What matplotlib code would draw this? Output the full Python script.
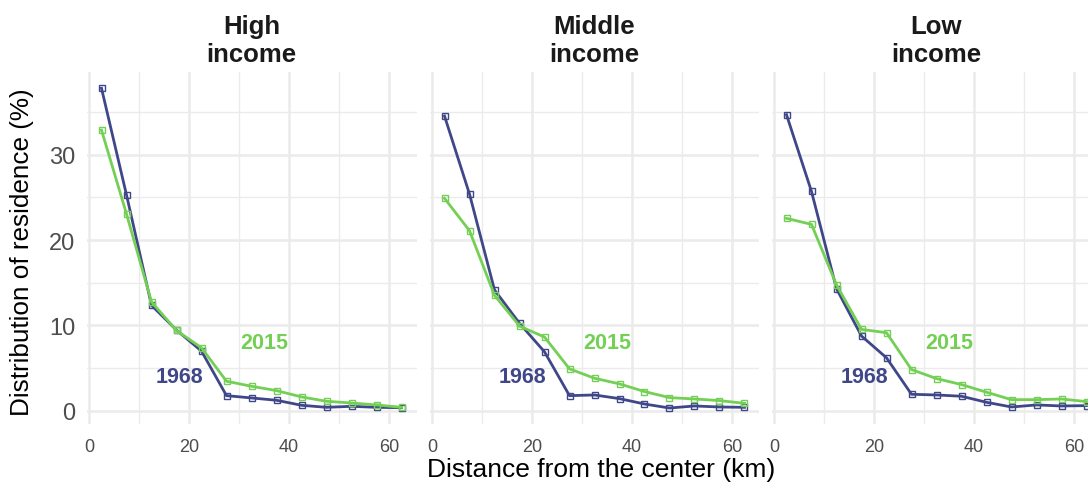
import matplotlib
matplotlib.use("Agg")
import matplotlib.pyplot as plt
from matplotlib.ticker import MultipleLocator

plt.rcParams["font.family"] = ["Liberation Sans", "DejaVu Sans"]

# distance bins (km), midpoints
distance = [2.5, 7.5, 12.5, 17.5, 22.5, 27.5, 32.5, 37.5, 42.5, 47.5, 52.5, 57.5, 62.5]

panels = ["High\nincome", "Middle\nincome", "Low\nincome"]

high_1968 = [37.8, 25.3, 12.35, 9.45, 6.98, 1.76, 1.49, 1.22, 0.63, 0.39, 0.51, 0.39, 0.35]
high_2015 = [32.9, 23.06, 12.75, 9.4, 7.37, 3.45, 2.86, 2.35, 1.61, 1.10, 0.90, 0.67, 0.39]

middle_1968 = [34.55, 25.4, 14.16, 10.24, 6.9, 1.76, 1.84, 1.41, 0.78, 0.31, 0.55, 0.43, 0.39]
middle_2015 = [24.9, 21.1, 13.53, 9.92, 8.63, 4.9, 3.8, 3.14, 2.24, 1.53, 1.37, 1.18, 0.86]

low_1968 = [34.7, 25.7, 14.3, 8.75, 6.2, 1.92, 1.84, 1.69, 0.98, 0.43, 0.67, 0.55, 0.59]
low_2015 = [22.55, 21.84, 14.75, 9.53, 9.14, 4.82, 3.76, 3.06, 2.16, 1.29, 1.29, 1.37, 1.06]

series_1968 = [high_1968, middle_1968, low_1968]
series_2015 = [high_2015, middle_2015, low_2015]

col_1968 = "#404788"
col_2015 = "#73D055"

W, H = 1088, 485
fig = plt.figure(figsize=(W / 100, H / 100), dpi=100)

panel_left = [86.5, 429.5, 771.5]
panel_w = 330
top_px, bottom_px = 73.3, 425.0
panel_h = bottom_px - top_px

ymax = max(max(s) for s in series_1968 + series_2015)
ymin = min(min(s) for s in series_1968 + series_2015)
ypad = (ymax - ymin) * 0.05

for i, name in enumerate(panels):
    ax = fig.add_axes([panel_left[i] / W, 1 - bottom_px / H,
                       panel_w / W, panel_h / H])
    ax.set_facecolor("white")
    for sp in ax.spines.values():
        sp.set_visible(False)

    ax.xaxis.set_major_locator(MultipleLocator(20))
    ax.xaxis.set_minor_locator(MultipleLocator(10))
    ax.yaxis.set_major_locator(MultipleLocator(10))
    ax.yaxis.set_minor_locator(MultipleLocator(5))
    ax.grid(which="major", color="#EBEBEB", linewidth=1.8, zorder=0)
    ax.grid(which="minor", color="#EBEBEB", linewidth=1.0, zorder=0)
    ax.set_axisbelow(True)
    ax.tick_params(which="both", length=0)
    ax.tick_params(axis="x", labelsize=13, labelcolor="#4D4D4D", pad=10)
    ax.tick_params(axis="y", labelsize=17, labelcolor="#4D4D4D", pad=8)
    if i > 0:
        ax.tick_params(axis="y", labelleft=False)

    ax.plot(distance, series_1968[i], color=col_1968, linewidth=2.0,
            marker="s", markersize=4, markerfacecolor="none",
            markeredgewidth=1.0, zorder=3)
    ax.plot(distance, series_2015[i], color=col_2015, linewidth=2.0,
            marker="s", markersize=4, markerfacecolor="none",
            markeredgewidth=1.0, zorder=3)

    ax.text(35, 8, "2015", color=col_2015, fontsize=15.5, fontweight="bold",
            ha="center", va="center")
    ax.text(18, 4, "1968", color=col_1968, fontsize=15.5, fontweight="bold",
            ha="center", va="center")

    ax.set_xlim(-0.5, 65.5)
    ax.set_ylim(ymin - ypad, ymax + ypad)

    ax.text(0.5, 1 + (top_px - 62) / panel_h, name, transform=ax.transAxes,
            ha="center", va="baseline", fontsize=18.5, fontweight="bold",
            color="#1A1A1A", linespacing=1.22)

fig.text(22 / W, 1 - 252 / H, "Distribution of residence (%)", rotation=90,
         ha="center", va="center", fontsize=18.8, color="black")
fig.text(601 / W, 1 - 470 / H, "Distance from the center (km)",
         ha="center", va="center", fontsize=19, color="black")

fig.savefig("out.png", dpi=100)
